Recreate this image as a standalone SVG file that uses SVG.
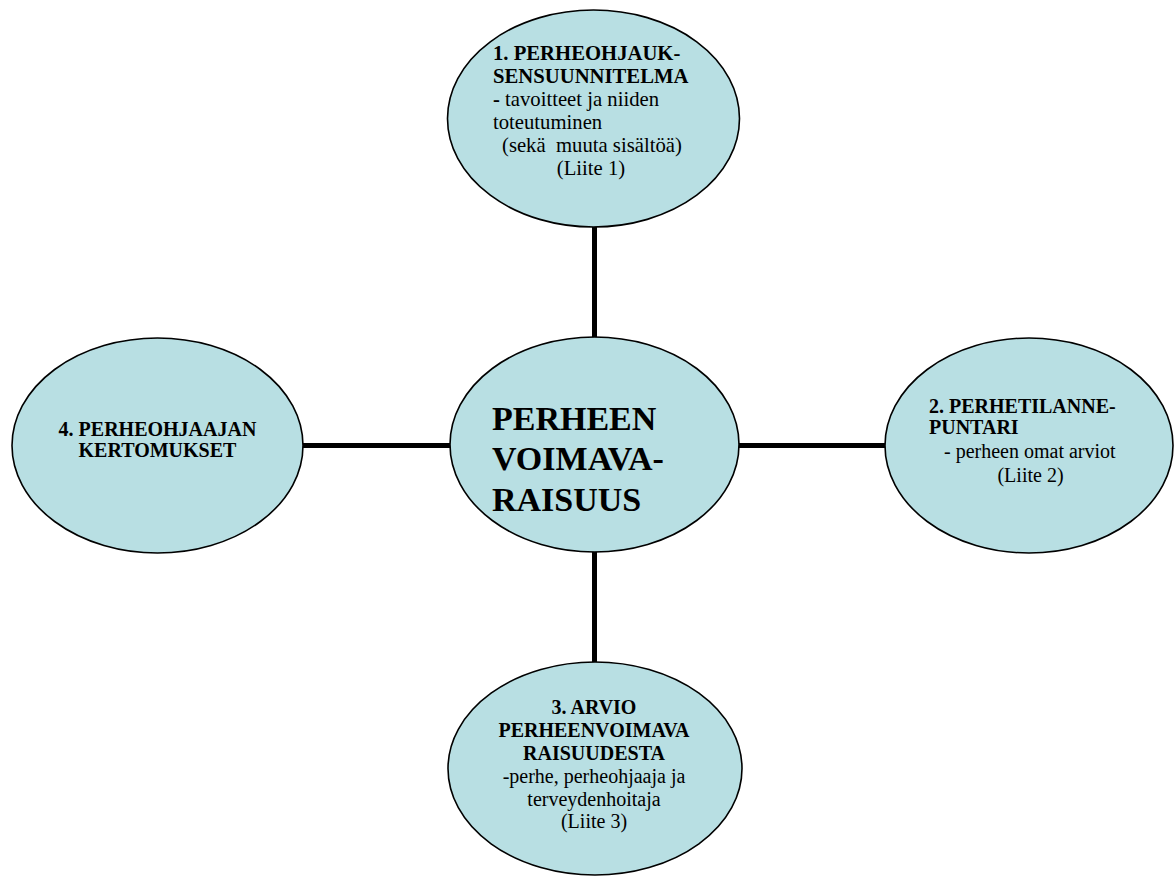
<svg xmlns="http://www.w3.org/2000/svg" width="1175" height="876" viewBox="0 0 1175 876">
  <style>
    .node { fill: #B8DFE3; stroke: #000; stroke-width: 1.6; }
    .conn { stroke: #000; stroke-width: 5; fill: none; }
    text { font-family: "Liberation Serif", "Times New Roman", serif; fill: #000; font-size: 20px; }
    .t { font-size: 20.7px; }
    .b { font-weight: bold; }
    .big { font-weight: bold; font-size: 34px; }
    .c { text-anchor: middle; }
  </style>
  <rect width="1175" height="876" fill="#fff"/>
  <g id="connectors">
    <line class="conn" x1="594.5" y1="226" x2="594.5" y2="338"/>
    <line class="conn" x1="594.5" y1="551" x2="594.5" y2="664"/>
    <line class="conn" x1="302" y1="445.5" x2="451" y2="445.5"/>
    <line class="conn" x1="738" y1="445.5" x2="887" y2="445.5"/>
  </g>
  <g id="node-top">
    <ellipse class="node" cx="593.5" cy="118.5" rx="146" ry="108.5"/>
    <text x="493" y="60" class="b t">1. PERHEOHJAUK-</text>
    <text x="493" y="83" class="b t">SENSUUNNITELMA</text>
    <text x="493" y="106" class="t"><tspan class="b">-</tspan> tavoitteet ja niiden</text>
    <text x="493" y="129" class="t">toteutuminen</text>
    <text x="502" y="152" class="t" xml:space="preserve">(sekä  muuta sisältöä)</text>
    <text x="591" y="175" class="c t">(Liite 1)</text>
  </g>
  <g id="node-center">
    <ellipse class="node" cx="594.5" cy="444.5" rx="144.5" ry="107.5"/>
    <text x="492" y="430" class="big">PERHEEN</text>
    <text x="492" y="470" class="big">VOIMAVA-</text>
    <text x="492" y="511" class="big">RAISUUS</text>
  </g>
  <g id="node-left">
    <ellipse class="node" cx="157.5" cy="445.5" rx="145.5" ry="107.5"/>
    <text x="157.5" y="436" class="b c">4. PERHEOHJAAJAN</text>
    <text x="157.5" y="457" class="b c">KERTOMUKSET</text>
  </g>
  <g id="node-right">
    <ellipse class="node" cx="1029" cy="445.5" rx="144" ry="107.5"/>
    <text x="929" y="413" class="b">2. PERHETILANNE-</text>
    <text x="929" y="434" class="b">PUNTARI</text>
    <text x="944" y="458">- perheen omat arviot</text>
    <text x="1030.5" y="482" class="c">(Liite 2)</text>
  </g>
  <g id="node-bottom">
    <ellipse class="node" cx="595" cy="768.5" rx="147" ry="106.5"/>
    <text x="594" y="714" class="b c">3. ARVIO</text>
    <text x="594" y="737" class="b c">PERHEENVOIMAVA</text>
    <text x="594" y="760" class="b c">RAISUUDESTA</text>
    <text x="594" y="783" class="c">-perhe, perheohjaaja ja</text>
    <text x="594" y="806" class="c">terveydenhoitaja</text>
    <text x="594" y="828" class="c">(Liite 3)</text>
  </g>
</svg>
